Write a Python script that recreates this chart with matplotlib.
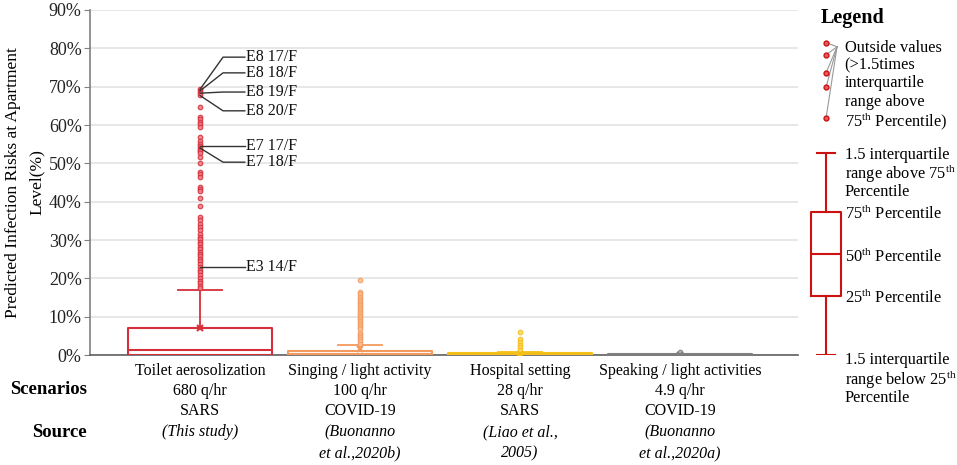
import matplotlib
matplotlib.use("Agg")
import matplotlib.pyplot as plt
from matplotlib.ticker import FuncFormatter
from matplotlib.transforms import blended_transform_factory

plt.rcParams['font.family'] = ['Liberation Serif', 'DejaVu Serif']
plt.rcParams['mathtext.fontset'] = 'custom'
plt.rcParams['mathtext.rm'] = 'Liberation Serif'

# DATA (values in %)
scenarios = ["Toilet aerosolization\n680 q/hr\nSARS",
             "Singing / light activity\n100 q/hr\nCOVID-19",
             "Hospital setting\n28 q/hr\nSARS",
             "Speaking / light activities\n4.9 q/hr\nCOVID-19"]
sources = ["(This study)", "(Buonanno\net al.,2020b)", "(Liao et al.,\n2005)", "(Buonanno\net al.,2020a)"]
colors = ["#d62f3a", "#f39a5e", "#f5bf1a", "#7f7f7f"]
flier_fill = ["#ea8087", "#f8c29c", "#f9d862", "#b0b0b0"]

q1 = [0.0, 0.0, 0.0, 0.0]
med = [1.3, 0.3, 0.1, 0.05]
q3 = [7.0, 1.0, 0.4, 0.15]
whislo = [0.0, 0.0, 0.0, 0.0]
whishi = [17.0, 2.6, 0.9, 0.3]
means = [7.1, 1.6, 0.3, 0.1]

red_out = [69.3, 68.9, 68.3, 67.7, 64.7, 62.0, 61.5, 60.8, 60.3, 59.6, 56.9, 55.7, 55.0,
           54.6, 54.0, 53.6, 53.2, 52.6, 51.6, 50.1, 47.8, 47.2, 46.4, 43.9, 43.4, 42.8,
           40.9, 38.9, 36.1, 35.2, 34.3, 33.4, 32.6, 31.6, 30.8, 30.2, 29.6, 29.0, 28.3,
           27.6, 27.0, 26.4, 25.7, 25.0, 24.4, 23.7, 23.0, 22.3, 21.6, 20.9, 20.2, 19.4,
           18.7, 18.0, 17.4]
orange_out = [19.6, 16.4, 15.8, 15.2, 14.7, 14.2, 13.6, 13.0, 12.5, 12.0, 11.5, 11.0, 10.4,
              9.9, 9.4, 8.9, 8.3, 7.7, 7.2, 6.7, 5.7, 5.1, 4.6, 4.1, 3.6, 3.0]
yellow_out = [5.9, 4.2, 3.3, 2.6, 2.0, 1.4]
gray_out = [0.7]
fliers = [red_out, orange_out, yellow_out, gray_out]

# annotated outliers: label, point value, text value
ann_labels = ["E8 17/F", "E8 18/F", "E8 19/F", "E8 20/F", "E7 17/F", "E7 18/F", "E3 14/F"]
ann_points = [69.3, 68.9, 68.3, 67.7, 54.6, 54.0, 23.0]
ann_text_y = [77.7, 73.6, 68.6, 63.7, 54.6, 50.3, 23.0]

# legend schematic
leg_out = [81.5, 78.3, 73.6, 69.9, 61.8]
leg_stats = dict(whislo=0.0, q1=15.4, med=26.3, q3=37.3, whishi=52.7)
leg_out_lines = ["Outside values", "(>1.5times", "interquartile", "range above",
                 "75$^{\\mathrm{th}}$ Percentile)"]
leg_out_y = [80.6, 76.2, 71.5, 66.5, 61.8]
leg_hi_lines = ["1.5 interquartile", "range above 75$^{\\mathrm{th}}$", "Percentile"]
leg_hi_y = [52.7, 48.0, 43.0]
leg_lo_lines = ["1.5 interquartile", "range below 25$^{\\mathrm{th}}$", "Percentile"]
leg_lo_y = [-0.8, -5.7, -10.7]

fig = plt.figure(figsize=(9.57, 4.65), dpi=100)
ax = fig.add_axes([90/957, 110/465, 708/957, 345/465])

pos = [1, 2, 3, 4]
for i in range(4):
    st = dict(q1=q1[i], med=med[i], q3=q3[i], whislo=whislo[i], whishi=whishi[i],
              mean=means[i], fliers=fliers[i])
    c = colors[i]
    ax.bxp([st], positions=[pos[i]], widths=0.906, capwidths=[0.27], showmeans=True,
           boxprops=dict(color=c, lw=1.5), medianprops=dict(color=c, lw=1.5),
           whiskerprops=dict(color=c, lw=1.3), capprops=dict(color=c, lw=1.3),
           meanprops=dict(marker='x', markeredgecolor=c, markersize=5, mew=1.5),
           flierprops=dict(marker='o', markersize=3.3, markerfacecolor=flier_fill[i],
                           markeredgecolor=c, alpha=0.9, mew=0.8),
           zorder=3)

# annotations
for lab, p, t in zip(ann_labels, ann_points, ann_text_y):
    ax.plot([1, 1.144, 1.28], [p, t, t], color="#333333", lw=1.0, zorder=4)
    ax.text(1.29, t, lab, fontsize=11.5, va='center', ha='left', color="#111111")

ax.set_xlim(0.3125, 4.7375)
ax.set_ylim(0, 90)
ax.set_yticks(range(0, 91, 10))
ax.yaxis.set_major_formatter(FuncFormatter(lambda v, _: f"{v:.0f}%"))
ax.tick_params(axis='y', labelsize=13, length=4, color="#808080", labelcolor="#222222", pad=2)
ax.set_xticks([])
ax.grid(axis='y', color="#e3e3e3", lw=1.2, zorder=0)
ax.set_axisbelow(True)
for s in ['top', 'right']:
    ax.spines[s].set_visible(False)
ax.spines['left'].set_color("#808080")
ax.spines['bottom'].set_color("#606060")
ax.spines['left'].set_linewidth(1.2)
ax.spines['bottom'].set_linewidth(1.2)
ax.set_ylabel("Predicted Infection Risks at Apartment\nLevel(%)", fontsize=12.5, labelpad=3,
              linespacing=1.65)

# bottom labels
tr = blended_transform_factory(ax.transData, ax.transAxes)
for i in range(4):
    ax.text(pos[i], -0.022, scenarios[i], transform=tr, ha='center', va='top',
            fontsize=11.5, linespacing=1.37)
    ax.text(pos[i], -0.2, sources[i], transform=tr, ha='center', va='top',
            fontsize=11.5, style='italic', linespacing=1.45)
fig.text(87/957, 1 - 389/465, "Scenarios", ha='right', va='center', fontsize=13.5, fontweight='bold')
fig.text(87/957, 1 - 432/465, "Source", ha='right', va='center', fontsize=13.5, fontweight='bold')

# legend panel
lx = fig.add_axes([800/957, 110/465, 157/957, 345/465])
lx.set_xlim(0, 1)
lx.set_ylim(0, 90)
lx.axis('off')
lred = "#cc1111"
lx.bxp([dict(leg_stats, fliers=[])], positions=[0.166], widths=0.19, capwidths=[0.12],
       boxprops=dict(color=lred, lw=1.5), medianprops=dict(color=lred, lw=1.5),
       whiskerprops=dict(color=lred, lw=1.5), capprops=dict(color=lred, lw=1.5))
for v in leg_out:
    lx.plot([0.166, 0.236], [v, 80.4], color="#999999", lw=0.8, clip_on=False)
lx.plot([0.166] * len(leg_out), leg_out, 'o', color=lred, markersize=3.5,
        markerfacecolor="#e06060", clip_on=False, zorder=3)
lx.text(0.13, 88.0, "Legend", fontsize=14.5, fontweight='bold', va='center', ha='left')
for lines, ys in [(leg_out_lines, leg_out_y), (leg_hi_lines, leg_hi_y), (leg_lo_lines, leg_lo_y)]:
    for s, y in zip(lines, ys):
        lx.text(0.285, y, s, fontsize=11.8, va='center_baseline', ha='left')
for s, y in [("75", leg_stats['q3']), ("50", leg_stats['med']), ("25", leg_stats['q1'])]:
    lx.text(0.285, y, s + "$^{\\mathrm{th}}$ Percentile", fontsize=11.8, va='center_baseline', ha='left')

fig.savefig("out.png", dpi=100)
